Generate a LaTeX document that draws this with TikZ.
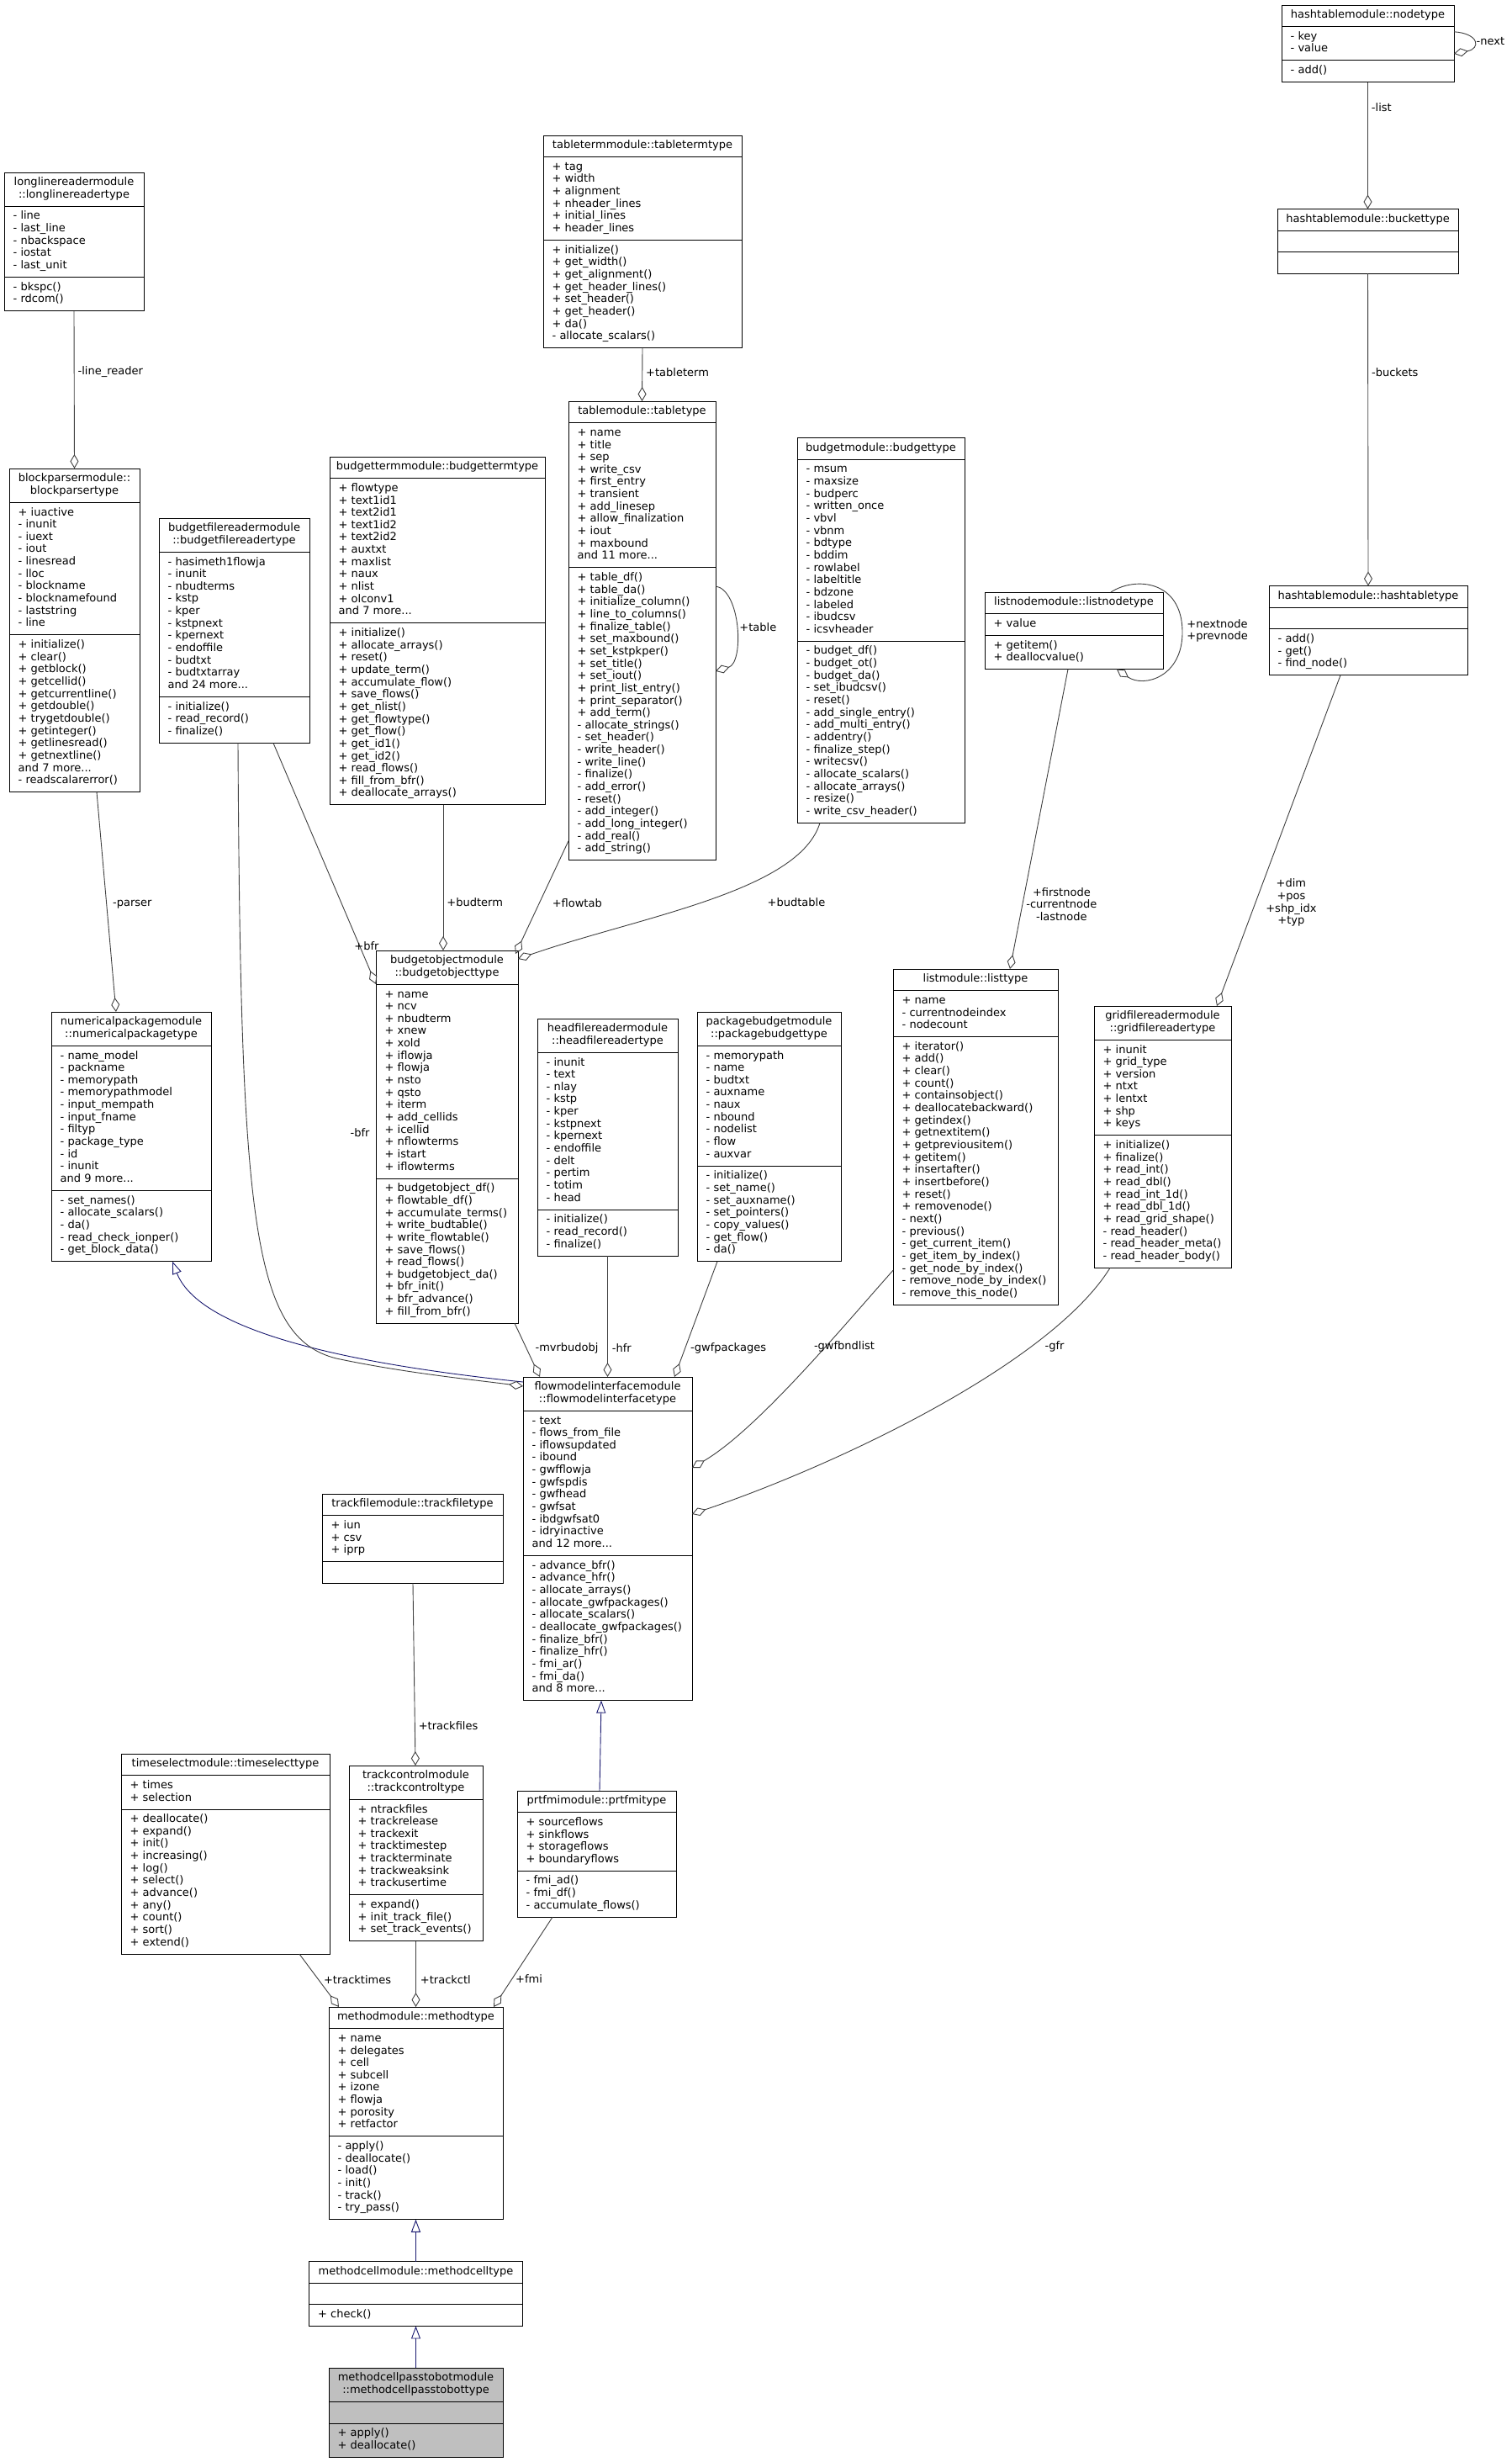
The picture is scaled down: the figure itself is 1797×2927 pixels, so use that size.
\documentclass[tikz,border=0pt]{standalone}
\usepackage{fontspec}
\setmainfont{DejaVu Sans}
\usetikzlibrary{arrows.meta,calc}
\definecolor{edgegray}{HTML}{404040}
\definecolor{inhblue}{HTML}{191970}
\definecolor{selgray}{HTML}{BFBFBF}
\tikzset{
  classbox/.style={draw=black, line width=0.9pt, fill=white, inner sep=0pt, outer sep=0pt},
  sepline/.style={draw=black, line width=0.9pt},
  titletext/.style={font=\fontsize{13}{14.65}\selectfont, align=center, inner sep=0pt},
  memtext/.style={font=\fontsize{13}{14.65}\selectfont, align=left, inner sep=0pt},
  lbl/.style={font=\fontsize{13}{14.65}\selectfont, inner sep=0pt, text=black},
  agg/.style={draw=edgegray, line width=0.9pt, -{Diamond[open, length=17pt, width=10pt]}},
  inh/.style={draw=inhblue, line width=0.9pt, {Triangle[open, length=15pt, width=11pt]}-}
}
\newcommand\umlclass[8]{%
  \pgfmathsetmacro\ua{#3+14.65*#5+11}%
  \pgfmathsetmacro\um{\ua+14.65*#6+11}%
  \pgfmathsetmacro\ub{\um+14.65*#7+11}%
  \node[classbox, anchor=north west, minimum width={#4-#2}, minimum height={\ub-#3}] (#1) at (#2,#3) {};
  \draw[sepline] (#2,\ua) -- (#4,\ua);
  \draw[sepline] (#2,\um) -- (#4,\um);
  \coordinate (#1-a) at ({#2+10.5},{\ua+4.5});
  \coordinate (#1-m) at ({#2+10.5},{\um+4.5});
  \node[titletext, anchor=north] (#1-t) at ({(#2+#4)/2},{#3+4.5}) {\rule{0pt}{11pt}#8};
}
\newcommand\umlmembers[3]{%
  \node[memtext, anchor=north west] (#1-at) at (#1-a) {\rule{0pt}{11pt}#2};
  \node[memtext, anchor=north west] (#1-mt) at (#1-m) {\rule{0pt}{11pt}#3};
}
\begin{document}
\begin{tikzpicture}[x=1pt,y=-1pt]
\fill[white] (0,0) rectangle (1797,2927);
\useasboundingbox (0,0) rectangle (1797,2927);

% ---------- classes ----------
\umlclass{nt}{1524}{6}{1729}{1}{2}{1}{hashtablemodule::nodetype}
\umlmembers{nt}{- key\\- value}{- add()}

\umlclass{bt}{1519}{248.5}{1734}{1}{1}{1}{hashtablemodule::buckettype}
\umlmembers{bt}{}{}

\umlclass{ht}{1509}{696.5}{1745}{1}{1}{3}{hashtablemodule::hashtabletype}
\umlmembers{ht}{}{- add()\\- get()\\- find\_node()}

\umlclass{ln}{1171}{704}{1383}{1}{1}{2}{listnodemodule::listnodetype}
\umlmembers{ln}{+ value}{+ getitem()\\+ deallocvalue()}

\umlclass{tt}{646}{161}{882}{1}{6}{8}{tabletermmodule::tabletermtype}
\umlmembers{tt}{+ tag\\+ width\\+ alignment\\+ nheader\_lines\\+ initial\_lines\\+ header\_lines}{+ initialize()\\+ get\_width()\\+ get\_alignment()\\+ get\_header\_lines()\\+ set\_header()\\+ get\_header()\\+ da()\\- allocate\_scalars()}

\umlclass{tb}{676}{477}{851}{1}{11}{23}{tablemodule::tabletype}
\umlmembers{tb}{+ name\\+ title\\+ sep\\+ write\_csv\\+ first\_entry\\+ transient\\+ add\_linesep\\+ allow\_finalization\\+ iout\\+ maxbound\\and 11 more...}{+ table\_df()\\+ table\_da()\\+ initialize\_column()\\+ line\_to\_columns()\\+ finalize\_table()\\+ set\_maxbound()\\+ set\_kstpkper()\\+ set\_title()\\+ set\_iout()\\+ print\_list\_entry()\\+ print\_separator()\\+ add\_term()\\- allocate\_strings()\\- set\_header()\\- write\_header()\\- write\_line()\\- finalize()\\- add\_error()\\- reset()\\- add\_integer()\\- add\_long\_integer()\\- add\_real()\\- add\_string()}

\umlclass{ll}{5}{205}{171}{2}{5}{2}{longlinereadermodule\\::longlinereadertype}
\umlmembers{ll}{- line\\- last\_line\\- nbackspace\\- iostat\\- last\_unit}{- bkspc()\\- rdcom()}

\umlclass{bp}{11}{557}{166}{2}{10}{12}{blockparsermodule::\\blockparsertype}
\umlmembers{bp}{+ iuactive\\- inunit\\- iuext\\- iout\\- linesread\\- lloc\\- blockname\\- blocknamefound\\- laststring\\- line}{+ initialize()\\+ clear()\\+ getblock()\\+ getcellid()\\+ getcurrentline()\\+ getdouble()\\+ trygetdouble()\\+ getinteger()\\+ getlinesread()\\+ getnextline()\\and 7 more...\\- readscalarerror()}

\umlclass{bf}{189}{616}{368}{2}{11}{3}{budgetfilereadermodule\\::budgetfilereadertype}
\umlmembers{bf}{- hasimeth1flowja\\- inunit\\- nbudterms\\- kstp\\- kper\\- kstpnext\\- kpernext\\- endoffile\\- budtxt\\- budtxtarray\\and 24 more...}{- initialize()\\- read\_record()\\- finalize()}

\umlclass{bm}{392}{543}{648}{1}{11}{14}{budgettermmodule::budgettermtype}
\umlmembers{bm}{+ flowtype\\+ text1id1\\+ text2id1\\+ text1id2\\+ text2id2\\+ auxtxt\\+ maxlist\\+ naux\\+ nlist\\+ olconv1\\and 7 more...}{+ initialize()\\+ allocate\_arrays()\\+ reset()\\+ update\_term()\\+ accumulate\_flow()\\+ save\_flows()\\+ get\_nlist()\\+ get\_flowtype()\\+ get\_flow()\\+ get\_id1()\\+ get\_id2()\\+ read\_flows()\\+ fill\_from\_bfr()\\+ deallocate\_arrays()}

\umlclass{bu}{948}{520.5}{1147}{1}{14}{14}{budgetmodule::budgettype}
\umlmembers{bu}{- msum\\- maxsize\\- budperc\\- written\_once\\- vbvl\\- vbnm\\- bdtype\\- bddim\\- rowlabel\\- labeltitle\\- bdzone\\- labeled\\- ibudcsv\\- icsvheader}{- budget\_df()\\- budget\_ot()\\- budget\_da()\\- set\_ibudcsv()\\- reset()\\- add\_single\_entry()\\- add\_multi\_entry()\\- addentry()\\- finalize\_step()\\- writecsv()\\- allocate\_scalars()\\- allocate\_arrays()\\- resize()\\- write\_csv\_header()}

\umlclass{lt}{1062}{1152}{1258}{1}{3}{21}{listmodule::listtype}
\umlmembers{lt}{+ name\\- currentnodeindex\\- nodecount}{+ iterator()\\+ add()\\+ clear()\\+ count()\\+ containsobject()\\+ deallocatebackward()\\+ getindex()\\+ getnextitem()\\+ getpreviousitem()\\+ getitem()\\+ insertafter()\\+ insertbefore()\\+ reset()\\+ removenode()\\- next()\\- previous()\\- get\_current\_item()\\- get\_item\_by\_index()\\- get\_node\_by\_index()\\- remove\_node\_by\_index()\\- remove\_this\_node()}

\umlclass{gf}{1301}{1196}{1464}{2}{7}{10}{gridfilereadermodule\\::gridfilereadertype}
\umlmembers{gf}{+ inunit\\+ grid\_type\\+ version\\+ ntxt\\+ lentxt\\+ shp\\+ keys}{+ initialize()\\+ finalize()\\+ read\_int()\\+ read\_dbl()\\+ read\_int\_1d()\\+ read\_dbl\_1d()\\+ read\_grid\_shape()\\- read\_header()\\- read\_header\_meta()\\- read\_header\_body()}

\umlclass{np}{61}{1203}{251}{2}{11}{5}{numericalpackagemodule\\::numericalpackagetype}
\umlmembers{np}{- name\_model\\- packname\\- memorypath\\- memorypathmodel\\- input\_mempath\\- input\_fname\\- filtyp\\- package\_type\\- id\\- inunit\\and 9 more...}{- set\_names()\\- allocate\_scalars()\\- da()\\- read\_check\_ionper()\\- get\_block\_data()}

\umlclass{bo}{447}{1130}{616}{2}{15}{11}{budgetobjectmodule\\::budgetobjecttype}
\umlmembers{bo}{+ name\\+ ncv\\+ nbudterm\\+ xnew\\+ xold\\+ iflowja\\+ flowja\\+ nsto\\+ qsto\\+ iterm\\+ add\_cellids\\+ icellid\\+ nflowterms\\+ istart\\+ iflowterms}{+ budgetobject\_df()\\+ flowtable\_df()\\+ accumulate\_terms()\\+ write\_budtable()\\+ write\_flowtable()\\+ save\_flows()\\+ read\_flows()\\+ budgetobject\_da()\\+ bfr\_init()\\+ bfr\_advance()\\+ fill\_from\_bfr()}

\umlclass{hf}{639}{1211}{806}{2}{12}{3}{headfilereadermodule\\::headfilereadertype}
\umlmembers{hf}{- inunit\\- text\\- nlay\\- kstp\\- kper\\- kstpnext\\- kpernext\\- endoffile\\- delt\\- pertim\\- totim\\- head}{- initialize()\\- read\_record()\\- finalize()}

\umlclass{pb}{829}{1203}{1000}{2}{9}{7}{packagebudgetmodule\\::packagebudgettype}
\umlmembers{pb}{- memorypath\\- name\\- budtxt\\- auxname\\- naux\\- nbound\\- nodelist\\- flow\\- auxvar}{- initialize()\\- set\_name()\\- set\_auxname()\\- set\_pointers()\\- copy\_values()\\- get\_flow()\\- da()}

\umlclass{fm}{622}{1637}{823}{2}{11}{11}{flowmodelinterfacemodule\\::flowmodelinterfacetype}
\umlmembers{fm}{- text\\- flows\_from\_file\\- iflowsupdated\\- ibound\\- gwfflowja\\- gwfspdis\\- gwfhead\\- gwfsat\\- ibdgwfsat0\\- idryinactive\\and 12 more...}{- advance\_bfr()\\- advance\_hfr()\\- allocate\_arrays()\\- allocate\_gwfpackages()\\- allocate\_scalars()\\- deallocate\_gwfpackages()\\- finalize\_bfr()\\- finalize\_hfr()\\- fmi\_ar()\\- fmi\_da()\\and 8 more...}

\umlclass{tf}{383}{1776}{598}{1}{3}{1}{trackfilemodule::trackfiletype}
\umlmembers{tf}{+ iun\\+ csv\\+ iprp}{}

\umlclass{ts}{144}{2085}{392}{1}{2}{11}{timeselectmodule::timeselecttype}
\umlmembers{ts}{+ times\\+ selection}{+ deallocate()\\+ expand()\\+ init()\\+ increasing()\\+ log()\\+ select()\\+ advance()\\+ any()\\+ count()\\+ sort()\\+ extend()}

\umlclass{tc}{415}{2099}{574}{2}{7}{3}{trackcontrolmodule\\::trackcontroltype}
\umlmembers{tc}{+ ntrackfiles\\+ trackrelease\\+ trackexit\\+ tracktimestep\\+ trackterminate\\+ trackweaksink\\+ trackusertime}{+ expand()\\+ init\_track\_file()\\+ set\_track\_events()}

\umlclass{pf}{615}{2129}{804}{1}{4}{3}{prtfmimodule::prtfmitype}
\umlmembers{pf}{+ sourceflows\\+ sinkflows\\+ storageflows\\+ boundaryflows}{- fmi\_ad()\\- fmi\_df()\\- accumulate\_flows()}

\umlclass{mt}{391}{2386}{598}{1}{8}{6}{methodmodule::methodtype}
\umlmembers{mt}{+ name\\+ delegates\\+ cell\\+ subcell\\+ izone\\+ flowja\\+ porosity\\+ retfactor}{- apply()\\- deallocate()\\- load()\\- init()\\- track()\\- try\_pass()}

\umlclass{mc}{367.5}{2688.5}{621.5}{1}{1}{1}{methodcellmodule::methodcelltype}
\umlmembers{mc}{}{+ check()}

\begin{scope}[classbox/.append style={fill=selgray}]
\umlclass{pt}{391}{2815}{598}{2}{1}{2}{methodcellpasstobotmodule\\::methodcellpasstobottype}
\umlmembers{pt}{}{+ apply()\\+ deallocate()}
\end{scope}

% ---------- connectors ----------
\draw[agg] (nt.south) -- node[lbl, pos=0.2, anchor=west, xshift=4pt] (L1) {-list} (bt.north);
\draw[agg] (bt.south) -- node[lbl, pos=0.317, anchor=west, xshift=4pt] (L2) {-buckets} (ht.north);
\draw[agg] ([yshift=14pt]nt.east) .. controls +(30pt,-2pt) and +(32pt,6pt) .. node[lbl, pos=0.5, anchor=west, xshift=3pt] (L3) {-next} ([yshift=-12pt]nt.east);
\draw[agg] ([xshift=150pt]ln.north west) .. controls (1350,685) and (1405,690) .. (1406,750) node[lbl, anchor=west, align=left, xshift=5pt] (L4) {+nextnode\\+prevnode} .. controls (1407,805) and (1360,818) .. ([xshift=157pt]ln.south west);
\draw[agg] ([xshift=85pt]ht.south west) -- node[lbl, pos=0.688, anchor=west, xshift=12pt, align=center] (L5) {+dim\\+pos\\+shp\_idx\\+typ} ([xshift=146pt]gf.north west);
\draw[agg] ([xshift=99pt]ln.south west) -- node[lbl, pos=0.784, anchor=west, xshift=4pt, align=center] (L6) {+firstnode\\-currentnode\\-lastnode} ([xshift=139pt]lt.north west);
\draw[agg] (tt.south) -- node[lbl, pos=0.46, anchor=west, xshift=4pt] (L7) {+tableterm} (tb.north);
\draw[agg] ([yshift=53pt]tb.east) .. controls +(30pt,-5pt) and +(34pt,10pt) .. node[lbl, pos=0.5, anchor=west, xshift=4pt] (L8) {+table} ([yshift=-48pt]tb.east);
\draw[agg] (ll.south) -- node[lbl, pos=0.386, anchor=west, xshift=4pt] (L9) {-line\_reader} (bp.north);
\draw[agg] ([xshift=104pt]bp.south west) -- node[lbl, pos=0.51, anchor=west, xshift=7pt] (L10) {-parser} ([xshift=77pt]np.north west);
\draw[inh] ([xshift=144pt]np.south west) .. controls (240,1590) and (450,1625) .. ([yshift=-6pt]fm.north west);
\draw[agg] ([xshift=136pt]bf.south west) -- ([yshift=-40pt]bo.north west);
\node[lbl] (L11) at (436,1125) {+bfr};
\draw[agg] ([xshift=94pt]bf.south west) .. controls (286,1450) and (300,1590) .. (400,1615) .. controls (480,1632) and (560,1640) .. ([yshift=-11pt]fm.north west);
\node[lbl] (L12) at (428,1347) {-bfr};
\draw[agg] ([xshift=135pt]bm.south west) -- node[lbl, pos=0.67, anchor=west, xshift=4pt] (L13) {+budterm} ([xshift=80pt]bo.north west);
\draw[agg] ([yshift=23pt]tb.south west) -- node[lbl, pos=0.55, anchor=west, xshift=15pt] (L14) {+flowtab} ([xshift=-3pt,yshift=-4pt]bo.north east);
\draw[agg] ([xshift=27pt]bu.south west) .. controls (950,1060) and (760,1090) .. ([yshift=-10pt]bo.north east);
\node[lbl] (L15) at (947,1073) {+budtable};
\draw[agg] ([xshift=165pt]bo.south west) -- node[lbl, pos=0.47, anchor=west, xshift=10pt] (L16) {-mvrbudobj} ([xshift=20pt]fm.north west);
\draw[agg] (hf.south) -- node[lbl, pos=0.764, anchor=west, xshift=5pt] (L17) {-hfr} (fm.north);
\draw[agg] ([xshift=24pt]pb.south west) -- node[lbl, pos=0.75, anchor=west, xshift=6pt] (L18) {-gwfpackages} ([xshift=180pt]fm.north west);
\draw[agg] ([yshift=41pt]lt.south west) .. controls (1000,1580) and (900,1700) .. ([yshift=-108pt]fm.north east);
\node[lbl] (L19) at (1004,1601) {-gwfbndlist};
\draw[agg] ([xshift=19pt]gf.south west) .. controls (1250,1620) and (1000,1740) .. ([yshift=-163pt]fm.north east);
\node[lbl] (L20) at (1254,1601) {-gfr};
\draw[agg] ([xshift=108pt]tf.south west) -- node[lbl, pos=0.78, anchor=west, xshift=4pt] (L21) {+trackfiles} ([xshift=79pt]tc.north west);
\draw[inh] ([xshift=93pt]fm.south west) -- ([xshift=98pt]pf.north west);
\draw[agg] ([xshift=212pt]ts.south west) -- node[lbl, pos=0.48, anchor=west, xshift=6pt] (L22) {+tracktimes} ([xshift=12pt]mt.north west);
\draw[agg] (tc.south) -- node[lbl, pos=0.58, anchor=west, xshift=5pt] (L23) {+trackctl} (mt.north);
\draw[agg] ([xshift=42pt]pf.south west) -- node[lbl, pos=0.69, anchor=west, xshift=4pt] (L24) {+fmi} ([xshift=196pt]mt.north west);
\draw[inh] (mt.south) -- (mc.north);
\draw[inh] (mc.south) -- (pt.north);
\end{tikzpicture}
\end{document}
